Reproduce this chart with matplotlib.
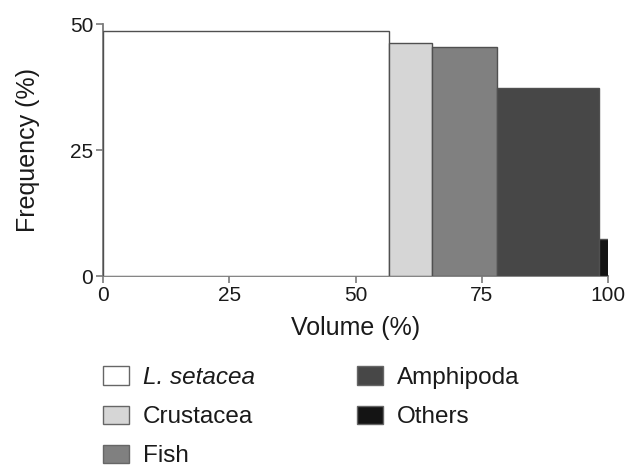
import matplotlib
matplotlib.use("Agg")
import matplotlib.pyplot as plt
from matplotlib.patches import Patch
import numpy as np

categories = ["L. setacea", "Crustacea", "Fish", "Amphipoda", "Others"]
volume = [56.6, 8.6, 12.8, 20.2, 1.9]        # bar widths (%)
frequency = [48.7, 46.3, 45.5, 37.4, 7.3]     # bar heights (%)
colors = ["#ffffff", "#d6d6d6", "#808080", "#474747", "#141414"]
xticks = [0, 25, 50, 75, 100]
yticks = [0, 25, 50]

plt.rcParams['font.family'] = ['Liberation Sans', 'DejaVu Sans']

fig = plt.figure(figsize=(6.36, 4.69), dpi=100)
ax = fig.add_axes([103/636, 1 - 276/469, 505/636, 252/469])

lefts = np.concatenate([[0], np.cumsum(volume)[:-1]])
ax.bar(lefts, frequency, width=volume, align='edge', color=colors,
       edgecolor='#505050', linewidth=1.0, zorder=3)

ax.set_xlim(0, 100)
ax.set_ylim(0, 50)
ax.set_xticks(xticks)
ax.set_yticks(yticks)
for s in ['top', 'right']:
    ax.spines[s].set_visible(False)
for s in ['left', 'bottom']:
    ax.spines[s].set_color('#7a7a7a')
    ax.spines[s].set_linewidth(1.3)
ax.tick_params(direction='out', length=5, width=1.2, color='#7a7a7a',
               labelsize=15, pad=2, labelcolor='#1a1a1a')
ax.set_xlabel("Volume (%)", fontsize=18, labelpad=8, color='#1a1a1a')
ax.set_ylabel("Frequency (%)", fontsize=18, color='#1a1a1a')
ax.yaxis.set_label_coords(-(103 - 40) / 505, 0.5)

handles = [Patch(facecolor=c, edgecolor='#666666', linewidth=1.0) for c in colors]
leg = fig.legend(handles, categories, ncol=2, loc='upper left',
                 bbox_to_anchor=(103/636, 1 - 366/469), frameon=False,
                 borderpad=0, borderaxespad=0,
                 handlelength=1.07, handleheight=0.78, handletextpad=0.58,
                 labelspacing=0.68, columnspacing=4.2, fontsize=17.5)
for t in leg.get_texts():
    t.set_color('#1a1a1a')
leg.get_texts()[0].set_fontstyle('italic')

fig.savefig("out.png", dpi=100)
